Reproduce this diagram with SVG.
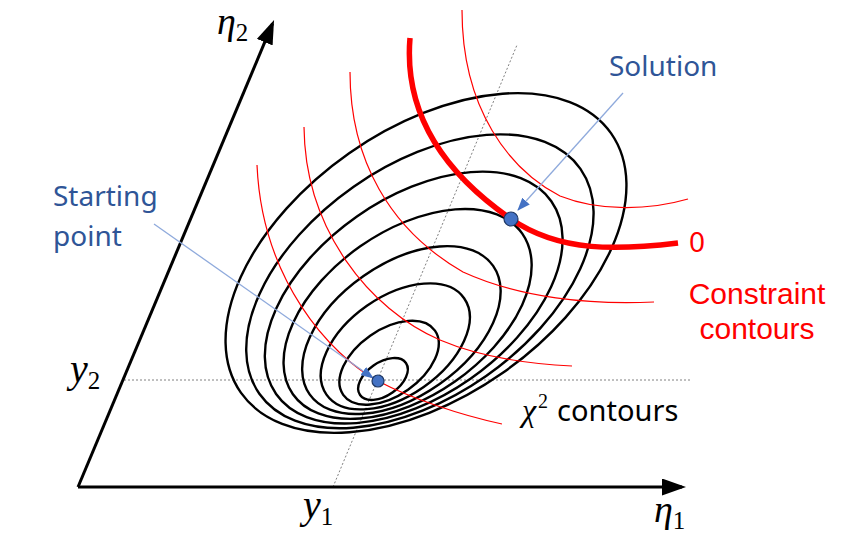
<svg xmlns="http://www.w3.org/2000/svg" width="859" height="533" viewBox="0 0 859 533">
<style>
.ax{stroke:#000;stroke-width:3;fill:none}
.dot{stroke:#808080;stroke-width:1;stroke-dasharray:2 2;fill:none}
.chi{stroke:#000;stroke-width:2.4;fill:none}
.con{stroke:#ff0000;stroke-width:1.2;fill:none}
.con0{stroke:#ff0000;stroke-width:5.5;fill:none}
.ptr{stroke:#8faadc;stroke-width:1.3;fill:none}
.pt{fill:#4472c4;stroke:#1f3864;stroke-width:1.2}
.lbl{font-family:"Noto Sans","Liberation Sans",sans-serif;font-size:28px}
.lbl2{font-family:"Liberation Sans","Noto Sans",sans-serif;font-size:30px}
.blue{fill:#2f5597}
.red{fill:#ff0000}
.math{font-family:"Liberation Serif","DejaVu Serif",serif;font-style:italic}
.sub{font-family:"Liberation Serif","DejaVu Serif",serif;font-style:normal}
</style>
<defs>
<marker id="axhead" markerUnits="userSpaceOnUse" viewBox="0 0 24 17" markerWidth="24" markerHeight="17" refX="20" refY="8.5" orient="auto">
<path d="M0,0 L24,8.5 L0,17 z" fill="#000"/>
</marker>
<marker id="bhead" markerUnits="userSpaceOnUse" viewBox="0 0 13 10" markerWidth="13" markerHeight="10" refX="12" refY="5" orient="auto">
<path d="M0,0 L13,5 L0,10 z" fill="#4472c4"/>
</marker>
</defs>

<g id="guides">
<line class="dot" x1="124" y1="380" x2="692" y2="380"/>
<line class="dot" x1="333" y1="487" x2="517" y2="45"/>
</g>

<g id="axes">
<line class="ax" x1="78" y1="487" x2="682" y2="487" marker-end="url(#axhead)"/>
<line class="ax" x1="78" y1="487" x2="272.5" y2="23.7" marker-end="url(#axhead)"/>
</g>

<g id="chi2-contours">
<ellipse class="chi" cx="383" cy="379" rx="28" ry="16.5" transform="rotate(-35 383 379)"/>
<ellipse class="chi" cx="389.1" cy="362.7" rx="56" ry="33" transform="rotate(-35 389.1 362.7)"/>
<ellipse class="chi" cx="395.3" cy="346.4" rx="84" ry="49.5" transform="rotate(-35 395.3 346.4)"/>
<ellipse class="chi" cx="401.4" cy="330.1" rx="112" ry="66" transform="rotate(-35 401.4 330.1)"/>
<ellipse class="chi" cx="407.6" cy="313.9" rx="140" ry="82.5" transform="rotate(-35 407.6 313.9)"/>
<ellipse class="chi" cx="413.7" cy="297.6" rx="168" ry="99" transform="rotate(-35 413.7 297.6)"/>
<ellipse class="chi" cx="419.9" cy="281.3" rx="196" ry="115.5" transform="rotate(-35 419.9 281.3)"/>
<ellipse class="chi" cx="426" cy="263" rx="226" ry="134" transform="rotate(-35 426 263)"/>
</g>

<g id="constraint-contours">
<path class="con" d="M257,165 C262,280 330,355 378,381 C410,398 460,415 502,424"/>
<path class="con" d="M304,127 C305,230 370,310 440,340 C480,357 530,364 572,366"/>
<path class="con" d="M350,72 C350,160 390,230 463,272 C520,298 590,305 654,302"/>
<path class="con0" d="M410,38 C404,110 440,170 511,219 C560,253 620,250 678,243"/>
<path class="con" d="M462,10 C462,110 510,170 560,196 C600,212 650,210 688,199"/>
</g>

<g id="connectors">
<line class="ptr" x1="623" y1="93" x2="518" y2="210" marker-end="url(#bhead)"/>
<line class="ptr" x1="154" y1="224" x2="373" y2="378" marker-end="url(#bhead)"/>
</g>

<g id="starting-point">
<circle class="pt" cx="378" cy="381" r="6"/>
<text class="lbl blue"><tspan x="53" y="206">Starting</tspan><tspan x="53" y="246">point</tspan></text>
</g>

<g id="solution">
<circle class="pt" cx="511" cy="219" r="7"/>
<text class="lbl blue" x="609" y="76" font-size="29">Solution</text>
</g>

<g id="labels">
<text class="lbl red" x="689" y="252">0</text>
<text class="lbl2 red" x="757" y="304" text-anchor="middle">Constraint</text>
<text class="lbl2 red" x="757" y="339" text-anchor="middle">contours</text>
<text class="lbl" x="522" y="421"><tspan class="math" font-size="32">χ</tspan><tspan class="sub" font-size="20" dy="-13" dx="2">2</tspan><tspan dy="13" dx="9" font-size="29">contours</tspan></text>
<text x="217" y="34"><tspan class="math" font-size="38">η</tspan><tspan class="sub" font-size="25" dy="7">2</tspan></text>
<text x="654" y="522"><tspan class="math" font-size="38">η</tspan><tspan class="sub" font-size="25" dy="7">1</tspan></text>
<text x="70" y="382"><tspan class="math" font-size="40">y</tspan><tspan class="sub" font-size="25" dy="7">2</tspan></text>
<text x="303" y="518"><tspan class="math" font-size="40">y</tspan><tspan class="sub" font-size="25" dy="7">1</tspan></text>
</g>
</svg>
